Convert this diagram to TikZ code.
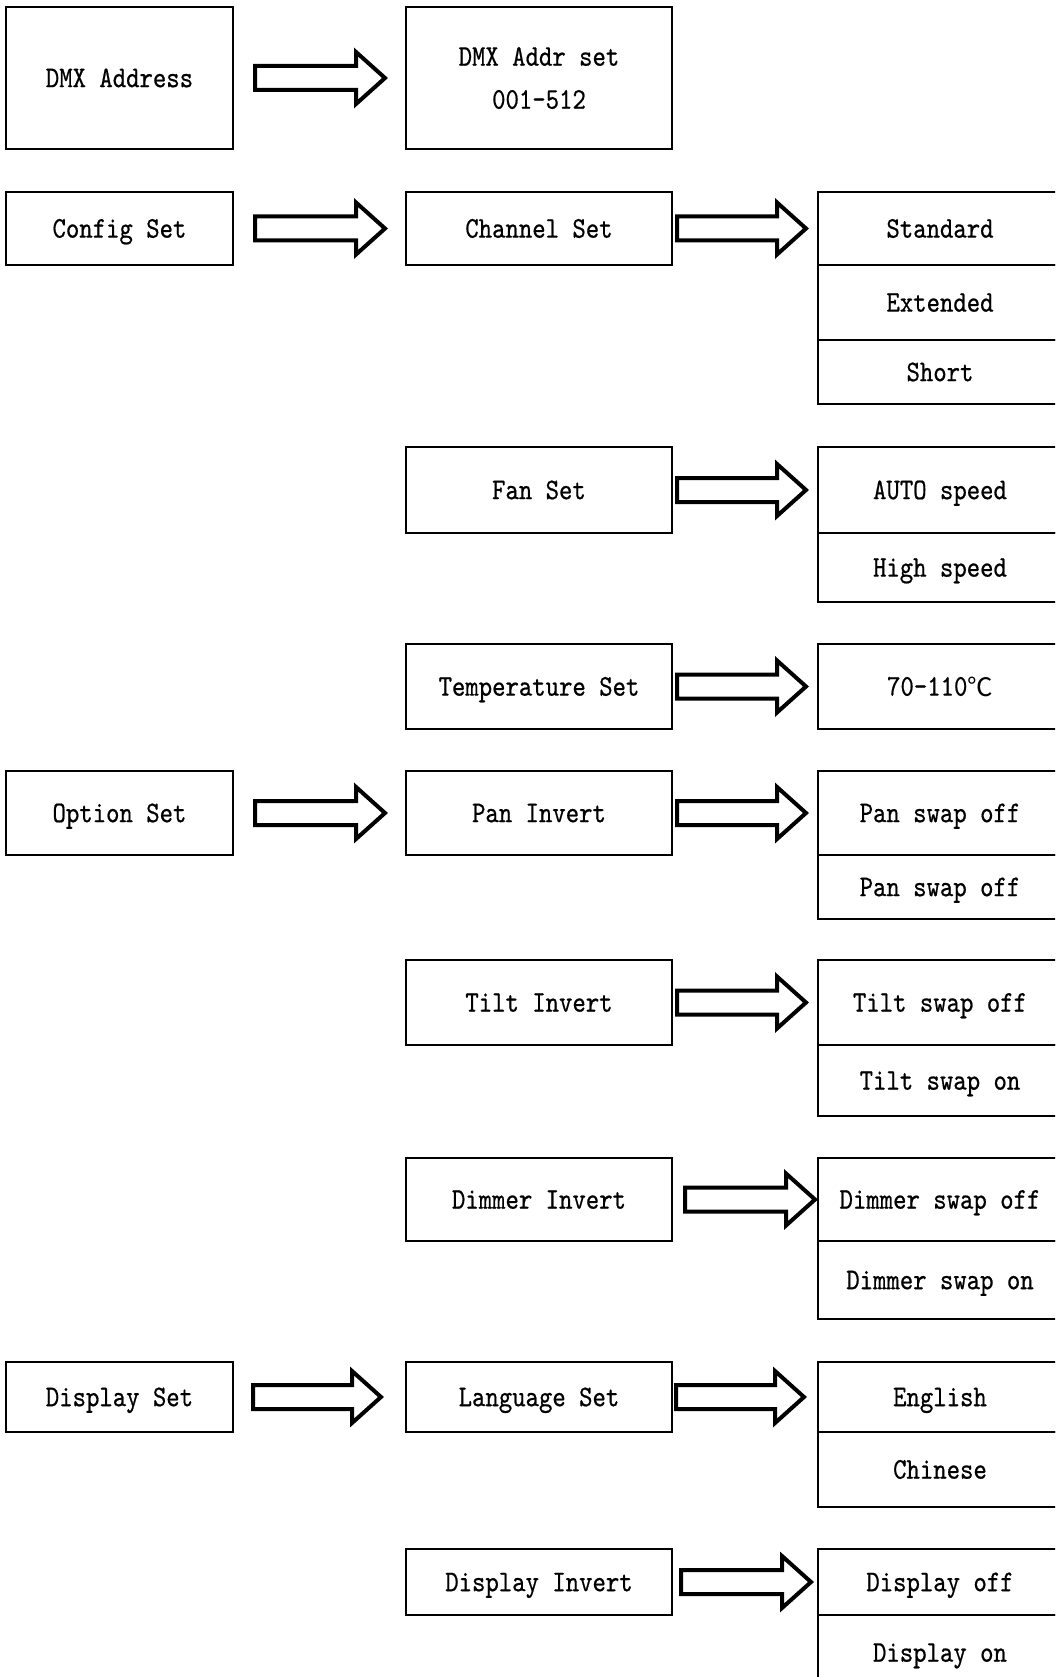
\documentclass[tikz,border=0pt]{standalone}
\usepackage{fontspec}
\setmonofont{lmmono10-regular.otf}[FakeStretch=0.85,FakeBold=0.6]
\newfontfamily\cjk{Noto Sans CJK SC}[Scale=0.85]
\usetikzlibrary{calc}
\tikzset{
  box/.style={draw, line width=2pt, inner sep=0pt, outer sep=0pt,
    font=\ttfamily\fontsize{30}{41}\selectfont, align=center,
    text height=18.3pt, text depth=0pt},
  twoline/.style={text height=, text depth=},
  barrow/.style={draw, line width=4pt, line join=miter, fill=white}
}
\newcommand\bx[7][]{\node[box, #1, minimum width={(#5-#3)*1pt}, minimum height={(#6-#4)*1pt}] (#2) at ({(#3+#5)/2},{(#4+#6)/2}) {#7};}
\newcommand\barr[4]{\draw[barrow] let \p1=($(#1.east)+(#3,0)$), \p2=($(#2.west)-(#4,0)$) in
  (\x1,{\y1+12pt}) -- ({\x2-29pt},{\y1+12pt}) -- ({\x2-29pt},{\y1+26pt}) -- (\x2,\y1)
  -- ({\x2-29pt},{\y1-26pt}) -- ({\x2-29pt},{\y1-12pt}) -- (\x1,{\y1-12pt}) -- cycle;}
\begin{document}
\begin{tikzpicture}[x=1pt,y=-1pt]
\useasboundingbox (0,0) rectangle (1055,1677);
\clip (0,0) rectangle (1055,1677);
% column 1
\bx{dmx}{6}{7}{233}{149}{DMX Address}
\bx{config}{6}{192}{233}{265}{Config Set}
\bx{option}{6}{771}{233}{855}{Option Set}
\bx{display}{6}{1362}{233}{1432}{Display Set}
% column 2
\bx[twoline]{addr}{406}{7}{672}{149}{\raisebox{-4pt}{DMX Addr set}\\\raisebox{-6pt}{001-512}}
\bx{channel}{406}{192}{672}{265}{Channel Set}
\bx{fan}{406}{447}{672}{533}{Fan Set}
\bx{temp}{406}{644}{672}{729}{Temperature Set}
\bx{pan}{406}{771}{672}{855}{Pan Invert}
\bx{tilt}{406}{960}{672}{1045}{Tilt Invert}
\bx{dimmer}{406}{1158}{672}{1241}{Dimmer Invert}
\bx{lang}{406}{1362}{672}{1432}{Language Set}
\bx{dinv}{406}{1549}{672}{1615}{Display Invert}
% column 3
\bx{std}{818}{192}{1062}{265}{Standard}
\bx{ext}{818}{265}{1062}{340}{Extended}
\bx{short}{818}{340}{1062}{404}{Short}
\bx{auto}{818}{447}{1062}{533}{AUTO speed}
\bx{high}{818}{533}{1062}{602}{High speed}
\bx{range}{818}{644}{1062}{729}{70-110\raisebox{-1pt}{\cjk ℃}}
\bx{panoff}{818}{771}{1062}{855}{Pan swap off}
\bx{panoff2}{818}{855}{1062}{919}{Pan swap off}
\bx{tiltoff}{818}{960}{1062}{1045}{Tilt swap off}
\bx{tilton}{818}{1045}{1062}{1116}{Tilt swap on}
\bx{dimoff}{818}{1158}{1062}{1241}{Dimmer swap off}
\bx{dimon}{818}{1241}{1062}{1319}{Dimmer swap on}
\bx{eng}{818}{1362}{1062}{1432}{English}
\bx{chn}{818}{1432}{1062}{1507}{Chinese}
\bx{doff}{818}{1549}{1062}{1615}{Display off}
\bx{don}{818}{1615}{1062}{1690}{Display on}
% arrows
\barr{dmx}{addr}{22}{21}
\barr{config}{channel}{22}{21}
\barr{channel}{std}{5}{12}
\barr{fan}{auto}{5}{12}
\barr{temp}{range}{5}{12}
\barr{option}{pan}{22}{21}
\barr{pan}{panoff}{5}{12}
\barr{tilt}{tiltoff}{5}{12}
\barr{dimmer}{dimoff}{13}{3}
\barr{display}{lang}{20}{25}
\barr{lang}{eng}{4}{14}
\barr{dinv}{doff}{9}{7}
\end{tikzpicture}
\end{document}
